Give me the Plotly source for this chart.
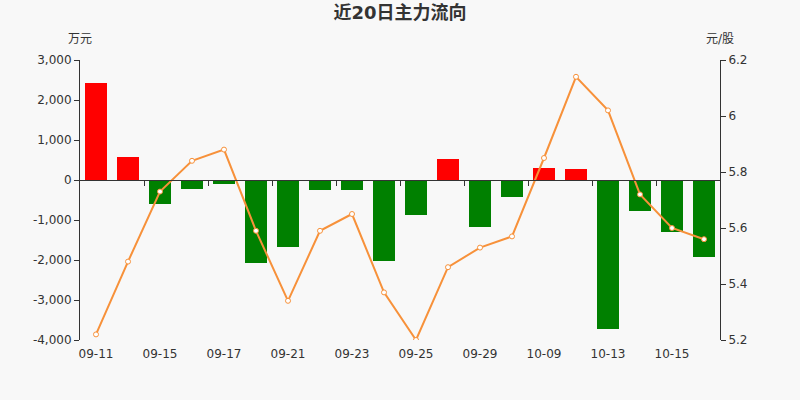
import plotly.graph_objects as go

dates = ["09-11", "09-14", "09-15", "09-16", "09-17", "09-18", "09-21", "09-22", "09-23", "09-24",
         "09-25", "09-28", "09-29", "09-30", "10-09", "10-12", "10-13", "10-14", "10-15", "10-16"]
flow = [2425, 567, -590, -225, -110, -2083, -1683, -250, -250, -2017,
        -883, 533, -1183, -417, 300, 283, -3733, -783, -1292, -1917]
price = [5.22, 5.48, 5.73, 5.84, 5.88, 5.59, 5.34, 5.59, 5.65, 5.37,
         5.20, 5.46, 5.53, 5.57, 5.85, 6.14, 6.02, 5.72, 5.60, 5.56]
label_dates = dates[::2]
flow_ticks = [-4000, -3000, -2000, -1000, 0, 1000, 2000, 3000]
flow_tick_text = ["-4,000", "-3,000", "-2,000", "-1,000", "0", "1,000", "2,000", "3,000"]
price_ticks = [5.2, 5.4, 5.6, 5.8, 6.0, 6.2]
price_tick_text = ["5.2", "5.4", "5.6", "5.8", "6", "6.2"]
boundary_ticks = [i + 1.5 for i in range(0, 18, 2)]

font_family = "DejaVu Sans, Noto Sans CJK SC, sans-serif"
txt = "#333333"

bar_colors = ["#ff0000" if v >= 0 else "#008000" for v in flow]

fig = go.Figure()
fig.add_trace(go.Bar(x=dates, y=flow, marker=dict(color=bar_colors, line=dict(width=0)),
                     width=0.69, yaxis="y", xaxis="x", showlegend=False))
fig.add_trace(go.Scatter(x=dates, y=price, mode="lines+markers", yaxis="y2", xaxis="x",
                         line=dict(color="#f7913a", width=2),
                         marker=dict(size=5, color="#ffffff", line=dict(color="#f7913a", width=1)),
                         showlegend=False))
# invisible trace to keep the zero-line tick axis alive
fig.add_trace(go.Scatter(x=[0], y=[0], xaxis="x2", yaxis="y", mode="markers",
                         marker=dict(opacity=0), showlegend=False, hoverinfo="skip"))

fig.update_layout(
    width=800, height=400,
    margin=dict(l=80, r=80, t=60, b=60),
    paper_bgcolor="#f8f8f8", plot_bgcolor="#f8f8f8",
    font=dict(family=font_family, size=12, color=txt),
    title=dict(text="<b>近20日主力流向</b>", x=0.5, xanchor="center", y=1 - 13 / 400,
               yanchor="middle", yref="container", font=dict(size=18, color=txt)),
    bargap=0,
    xaxis=dict(type="category", range=[-0.5, 19.5], tickvals=label_dates, ticktext=label_dates,
               ticks="", showline=False, showgrid=False, zeroline=False, ticklabelstandoff=5,
               tickfont=dict(size=12, color=txt)),
    xaxis2=dict(overlaying="x", anchor="free", position=4 / 7, side="bottom", type="linear",
                range=[-0.5, 19.5], tickvals=boundary_ticks, showticklabels=False,
                ticks="outside", ticklen=5, tickcolor=txt, showline=True, linecolor=txt,
                linewidth=1, showgrid=False, zeroline=False),
    yaxis=dict(range=[-4000, 3000], tickvals=flow_ticks, ticktext=flow_tick_text, showgrid=False,
               zeroline=False, showline=True, linecolor=txt, linewidth=1,
               ticks="outside", ticklen=5, tickcolor=txt, tickfont=dict(size=12, color=txt)),
    yaxis2=dict(range=[5.2, 6.2], tickvals=price_ticks, ticktext=price_tick_text,
                overlaying="y", side="right",
                showgrid=False, zeroline=False, showline=True, linecolor=txt, linewidth=1,
                ticks="outside", ticklen=5, tickcolor=txt, tickfont=dict(size=12, color=txt)),
)

# axis unit labels, positioned in paper coordinates of the 640x280 plot area
pw, ph = 640, 280
fig.add_annotation(text="万元", x=0, y=(340 - 39) / ph, xref="paper", yref="paper",
                   showarrow=False, xanchor="center", yanchor="middle",
                   font=dict(size=12, color=txt))
fig.add_annotation(text="元/股", x=1, y=(340 - 39) / ph, xref="paper", yref="paper",
                   showarrow=False, xanchor="center", yanchor="middle",
                   font=dict(size=12, color=txt))

fig.write_html(
    "out.html",
    config={"displayModeBar": False},
    post_script="document.body.style.margin='0';document.body.style.background='#f8f8f8';",
)
